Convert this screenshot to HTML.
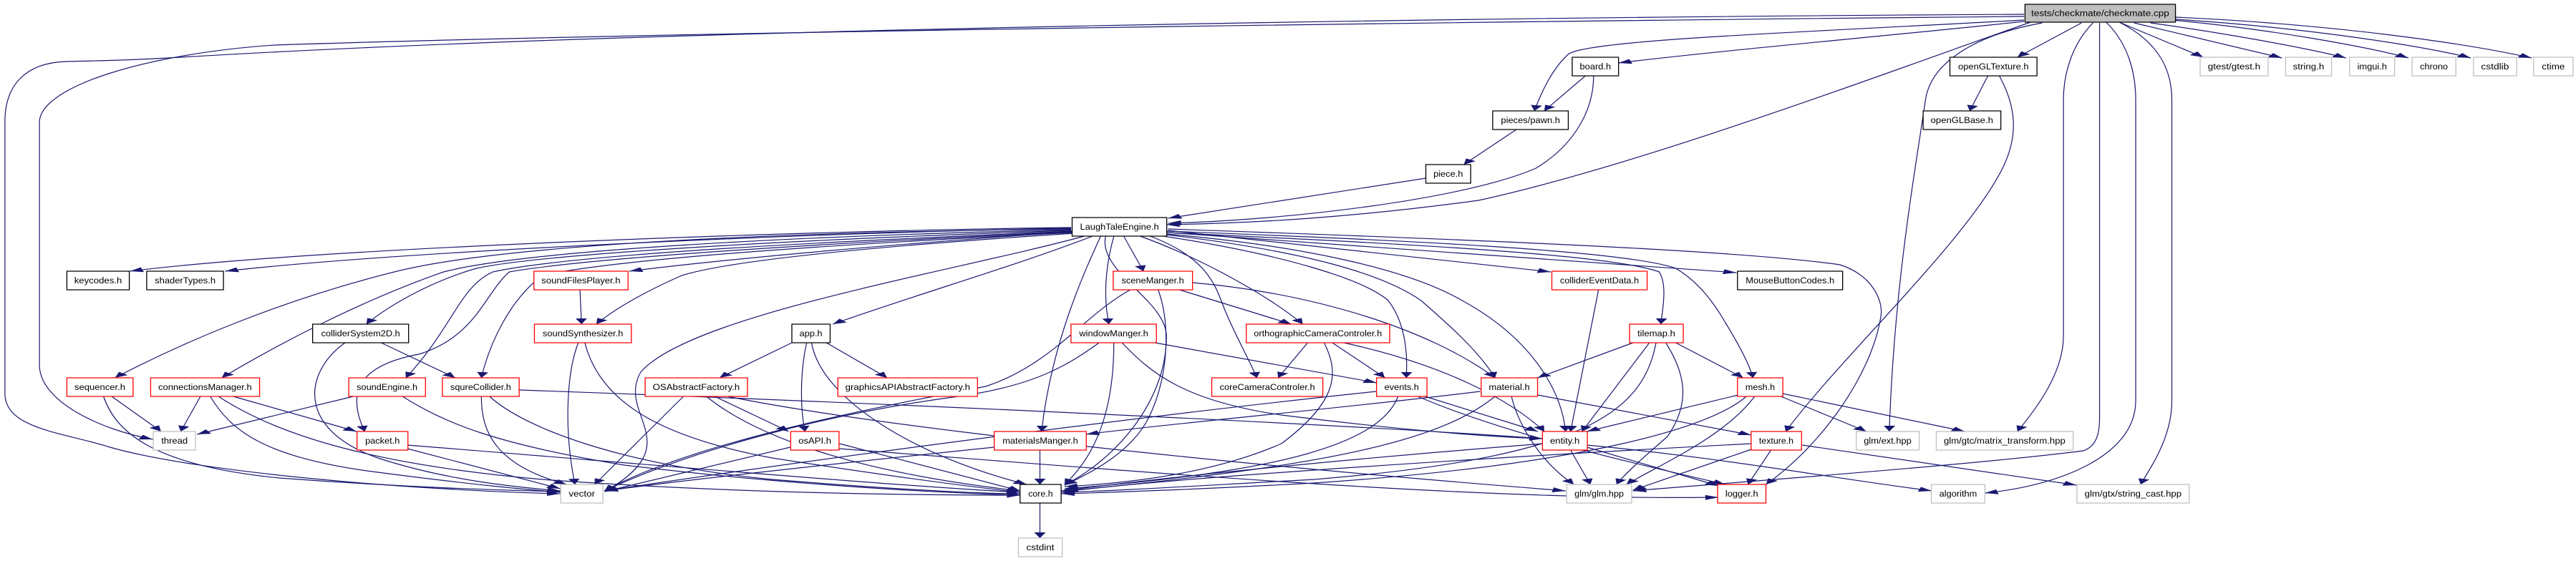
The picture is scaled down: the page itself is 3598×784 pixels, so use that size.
<!DOCTYPE html>
<html><head><meta charset="utf-8"><style>
html,body{margin:0;padding:0;background:#fff;}
svg{display:block;}
text{font-family:"Liberation Sans",Arial,sans-serif;font-size:12px;fill:#000;text-anchor:middle;}
.e{fill:none;stroke:#191970;stroke-width:1.2;vector-effect:non-scaling-stroke;marker-end:url(#a);}
.k{fill:#fff;stroke:#000;stroke-width:1.3;vector-effect:non-scaling-stroke;}
.r{fill:#fff;stroke:#ff0000;stroke-width:1.3;vector-effect:non-scaling-stroke;}
.g{fill:#fff;stroke:#bfbfbf;stroke-width:1.3;vector-effect:non-scaling-stroke;}
.m{fill:#bfbfbf;stroke:#000;stroke-width:1.3;vector-effect:non-scaling-stroke;}
</style></head><body>
<svg width="3598" height="784" viewBox="0 0 1568 784" preserveAspectRatio="none" xmlns="http://www.w3.org/2000/svg">
<defs><marker id="a" markerWidth="8" markerHeight="7" refX="8" refY="3.5" orient="auto" markerUnits="userSpaceOnUse"><path d="M0,0 L8,3.5 L0,7 z" fill="#191970"/></marker></defs>
<g>
<path class="e" d="M1232,20 C900,24 400,40 110,80 C80,84 60,85 40,86 C15,88 3,120 3,170 L3,550 C3,600 40,605 67,625 C120,660 250,685 341,690"/>
<path class="e" d="M1232,23 C900,30 400,45 167,63 C90,75 25,120 24,170 L24,510 C24,560 60,600 93,614"/>
<path class="e" d="M1236,31 C1150,100 1000,230 900,280 C820,305 760,312 710,314"/>
<path class="e" d="M1232,28 C1100,45 970,55 955,75 C945,95 938,130 934,155"/>
<path class="e" d="M1232,30 C1150,50 1050,70 985,88"/>
<path class="e" d="M1267,32 L1228,80"/>
<path class="e" d="M1291,32 L1341,80"/>
<path class="e" d="M1299,32 L1389,81"/>
<path class="e" d="M1309,32 C1350,45 1400,65 1428,81"/>
<path class="e" d="M1322,28 C1380,40 1440,65 1466,81"/>
<path class="e" d="M1324,27 C1400,38 1470,62 1504,81"/>
<path class="e" d="M1324,24 C1420,34 1500,60 1541,81"/>
<path class="e" d="M1243,32 C1200,50 1175,90 1172,140 C1165,250 1153,400 1150,603"/>
<path class="e" d="M1274,32 C1262,60 1256,100 1256,140 L1256,470 C1256,520 1240,570 1228,603"/>
<path class="e" d="M1278,32 L1278,585 C1278,610 1275,625 1268,630 C1200,650 1050,675 994,686"/>
<path class="e" d="M1282,31 C1295,60 1300,100 1300,140 L1300,560 C1300,640 1250,680 1208,689"/>
<path class="e" d="M1290,31 C1315,60 1322,100 1322,140 L1322,560 C1322,610 1310,650 1303,677"/>
<path class="e" d="M965,106 L940,155"/>
<path class="e" d="M970,106 C970,150 960,200 935,235 C890,280 780,308 711,312"/>
<path class="e" d="M923,181 L891,230"/>
<path class="e" d="M868,249 L711,305"/>
<path class="e" d="M1210,106 L1199,155"/>
<path class="e" d="M1217,106 C1225,140 1230,180 1220,230 C1200,330 1120,500 1087,603"/>
<path class="e" d="M652,318 C500,322 200,345 79,379"/>
<path class="e" d="M652,319 C500,325 250,350 137,379"/>
<path class="e" d="M653,324 C550,340 450,360 383,379"/>
<path class="e" d="M652,320 C450,325 300,345 240,380 C170,420 110,480 70,528"/>
<path class="e" d="M652,321 C480,330 320,350 270,380 C220,420 170,480 135,528"/>
<path class="e" d="M652,322 C480,335 330,355 290,375 C260,395 235,430 223,453"/>
<path class="e" d="M653,323 C500,338 350,355 300,380 C280,400 275,460 247,528"/>
<path class="e" d="M653,324 C500,340 360,360 310,380 C295,410 290,470 255,495 C220,510 210,545 222,603"/>
<path class="e" d="M653,325 C520,340 380,360 330,385 C310,420 298,480 293,528"/>
<path class="e" d="M654,326 C560,340 450,360 415,385 C395,405 375,430 363,453"/>
<path class="e" d="M660,330 C580,380 420,440 390,520 C375,580 420,620 368,687"/>
<path class="e" d="M665,330 C620,370 560,410 507,453"/>
<path class="e" d="M684,330 L696,379"/>
<path class="e" d="M678,330 C672,380 672,420 675,453"/>
<path class="e" d="M670,330 C660,380 640,480 634,603"/>
<path class="e" d="M673,330 C668,380 710,420 710,470 C710,560 680,640 648,678"/>
<path class="e" d="M694,330 C730,360 770,410 793,453"/>
<path class="e" d="M700,330 C735,360 740,400 745,430 C752,470 760,500 765,528"/>
<path class="e" d="M708,330 C780,355 830,390 845,420 C855,450 857,490 856,528"/>
<path class="e" d="M710,328 C790,350 840,380 865,420 C880,450 900,490 910,528"/>
<path class="e" d="M710,327 C800,345 860,380 890,420 C930,470 950,540 953,603"/>
<path class="e" d="M711,322 L944,380"/>
<path class="e" d="M710,325 C850,340 980,355 1010,380 C1015,400 1012,430 1011,453"/>
<path class="e" d="M711,325 L1057,381"/>
<path class="e" d="M710,323 C850,335 990,350 1020,375 C1035,395 1045,430 1050,450 C1058,480 1065,510 1067,528"/>
<path class="e" d="M711,320 C900,335 1060,350 1120,370 C1140,385 1146,420 1145,440 C1140,520 1110,620 1075,677"/>
<path class="e" d="M353,405 L354,453"/>
<path class="e" d="M352,479 C345,520 343,600 350,677"/>
<path class="e" d="M356,479 C365,560 400,610 470,640 C540,665 590,680 621,688"/>
<path class="e" d="M232,479 L277,528"/>
<path class="e" d="M210,479 C185,520 180,600 230,640 C270,670 310,680 341,686"/>
<path class="e" d="M68,554 L98,603"/>
<path class="e" d="M63,554 C70,600 90,650 170,668 C240,680 300,685 341,687"/>
<path class="e" d="M122,554 L110,603"/>
<path class="e" d="M142,554 L217,603"/>
<path class="e" d="M128,554 C140,600 160,640 230,660 C290,678 320,684 341,688"/>
<path class="e" d="M133,554 C170,610 230,650 330,670 C450,690 560,692 621,692"/>
<path class="e" d="M215,554 L120,607"/>
<path class="e" d="M245,554 C270,590 300,620 380,650 C470,675 560,688 621,692"/>
<path class="e" d="M293,554 C293,600 300,650 345,677"/>
<path class="e" d="M298,554 C320,600 380,650 470,670 C550,685 600,690 621,690"/>
<path class="e" d="M316,545 C500,560 800,590 939,613"/>
<path class="e" d="M248,627 L341,683"/>
<path class="e" d="M248,622 C400,650 550,680 621,688"/>
<path class="e" d="M482,479 L438,528"/>
<path class="e" d="M491,479 C487,520 487,570 490,603"/>
<path class="e" d="M503,479 L540,528"/>
<path class="e" d="M494,479 C500,560 560,640 625,677"/>
<path class="e" d="M416,554 L362,677"/>
<path class="e" d="M435,554 L480,603"/>
<path class="e" d="M430,554 C460,610 520,660 621,686"/>
<path class="e" d="M443,554 C520,590 700,640 953,686"/>
<path class="e" d="M481,625 L368,687"/>
<path class="e" d="M511,620 L621,686"/>
<path class="e" d="M511,627 C700,660 900,700 1046,695"/>
<path class="e" d="M718,405 L786,453"/>
<path class="e" d="M726,395 C800,410 870,460 910,528"/>
<path class="e" d="M705,405 C712,450 712,520 700,580 C690,630 665,660 648,678"/>
<path class="e" d="M688,405 C660,440 640,510 600,540 C530,570 420,620 368,686"/>
<path class="e" d="M703,479 L838,535"/>
<path class="e" d="M683,479 C700,520 720,560 780,580 C850,600 900,610 939,613"/>
<path class="e" d="M678,479 C678,560 670,630 648,677"/>
<path class="e" d="M669,479 C650,510 630,540 580,555 C500,580 420,630 368,686"/>
<path class="e" d="M796,479 L778,528"/>
<path class="e" d="M811,479 L843,528"/>
<path class="e" d="M818,479 C880,510 920,560 940,603"/>
<path class="e" d="M806,479 C815,520 815,560 780,620 C740,660 690,675 648,680"/>
<path class="e" d="M866,553 L936,603"/>
<path class="e" d="M851,554 C840,620 780,660 648,683"/>
<path class="e" d="M838,547 C700,580 500,640 368,686"/>
<path class="e" d="M863,554 C920,610 1000,650 1050,677"/>
<path class="e" d="M901,547 C820,570 720,590 661,607"/>
<path class="e" d="M910,554 C880,610 820,650 648,686"/>
<path class="e" d="M920,554 C925,600 940,650 958,677"/>
<path class="e" d="M936,552 L1066,608"/>
<path class="e" d="M633,629 L633,677"/>
<path class="e" d="M605,625 C500,650 420,670 368,686"/>
<path class="e" d="M939,620 C800,645 700,670 646,686"/>
<path class="e" d="M956,629 L968,677"/>
<path class="e" d="M966,625 L1046,679"/>
<path class="e" d="M966,622 C1050,640 1120,670 1176,686"/>
<path class="e" d="M973,405 L956,603"/>
<path class="e" d="M994,479 L936,528"/>
<path class="e" d="M1004,479 L963,603"/>
<path class="e" d="M1008,479 C1000,580 960,640 800,670 C720,680 680,686 646,688"/>
<path class="e" d="M1014,479 C1025,520 1030,560 1015,610 C1000,640 990,660 984,677"/>
<path class="e" d="M1020,479 L1061,528"/>
<path class="e" d="M1058,552 L966,603"/>
<path class="e" d="M1063,554 C1040,600 960,650 800,675 C720,685 680,688 646,690"/>
<path class="e" d="M1068,554 C1050,610 1010,650 990,677"/>
<path class="e" d="M1084,554 L1136,603"/>
<path class="e" d="M1085,550 L1196,603"/>
<path class="e" d="M1078,629 L1064,677"/>
<path class="e" d="M1066,620 C900,640 700,670 646,688"/>
<path class="e" d="M1066,628 L994,685"/>
<path class="e" d="M1097,622 L1264,678"/>
<path class="e" d="M633,703 L633,752"/>
</g>
<g>
<rect class="m" x="1232.6" y="6" width="91.6" height="25"/><text x="1278.4" y="22.5" textLength="84" lengthAdjust="spacingAndGlyphs">tests/checkmate/checkmate.cpp</text>
<rect class="k" x="957" y="80" width="28.2" height="26"/><text x="971.1" y="97" textLength="19" lengthAdjust="spacingAndGlyphs">board.h</text>
<rect class="k" x="908.6" y="155" width="46" height="26"/><text x="931.6" y="172" textLength="36" lengthAdjust="spacingAndGlyphs">pieces/pawn.h</text>
<rect class="k" x="867.9" y="230" width="27.3" height="26"/><text x="881.5" y="247" textLength="18" lengthAdjust="spacingAndGlyphs">piece.h</text>
<rect class="k" x="652.6" y="304" width="57.6" height="26"/><text x="681.4" y="321" textLength="48" lengthAdjust="spacingAndGlyphs">LaughTaleEngine.h</text>
<rect class="k" x="1186.9" y="80" width="53" height="26"/><text x="1213.4" y="97" textLength="43" lengthAdjust="spacingAndGlyphs">openGLTexture.h</text>
<rect class="k" x="1170.6" y="155" width="47.3" height="26"/><text x="1194.2" y="172" textLength="38" lengthAdjust="spacingAndGlyphs">openGLBase.h</text>
<rect class="g" x="1339.2" y="80" width="41.4" height="26"/><text x="1359.9" y="97" textLength="32" lengthAdjust="spacingAndGlyphs">gtest/gtest.h</text>
<rect class="g" x="1391.2" y="80" width="28" height="26"/><text x="1405.2" y="97" textLength="19" lengthAdjust="spacingAndGlyphs">string.h</text>
<rect class="g" x="1430.2" y="80" width="27.4" height="26"/><text x="1443.9" y="97" textLength="18" lengthAdjust="spacingAndGlyphs">imgui.h</text>
<rect class="g" x="1468.2" y="80" width="26.7" height="26"/><text x="1481.5" y="97" textLength="17" lengthAdjust="spacingAndGlyphs">chrono</text>
<rect class="g" x="1505.6" y="80" width="26.3" height="26"/><text x="1518.7" y="97" textLength="17" lengthAdjust="spacingAndGlyphs">cstdlib</text>
<rect class="g" x="1542.2" y="80" width="24" height="26"/><text x="1554.2" y="97" textLength="14" lengthAdjust="spacingAndGlyphs">ctime</text>
<rect class="k" x="40.7" y="379" width="38" height="26"/><text x="59.7" y="396" textLength="29" lengthAdjust="spacingAndGlyphs">keycodes.h</text>
<rect class="k" x="89.3" y="379" width="46.7" height="26"/><text x="112.7" y="396" textLength="37" lengthAdjust="spacingAndGlyphs">shaderTypes.h</text>
<rect class="r" x="325" y="379" width="57.3" height="26"/><text x="353.6" y="396" textLength="48" lengthAdjust="spacingAndGlyphs">soundFilesPlayer.h</text>
<rect class="r" x="677.6" y="379" width="48.3" height="26"/><text x="701.7" y="396" textLength="38" lengthAdjust="spacingAndGlyphs">sceneManger.h</text>
<rect class="r" x="944.6" y="379" width="58" height="26"/><text x="973.6" y="396" textLength="48" lengthAdjust="spacingAndGlyphs">colliderEventData.h</text>
<rect class="k" x="1057.6" y="379" width="64" height="26"/><text x="1089.6" y="396" textLength="54" lengthAdjust="spacingAndGlyphs">MouseButtonCodes.h</text>
<rect class="k" x="190.3" y="453" width="58.4" height="26"/><text x="219.5" y="470" textLength="48" lengthAdjust="spacingAndGlyphs">colliderSystem2D.h</text>
<rect class="r" x="325.3" y="453" width="59" height="26"/><text x="354.8" y="470" textLength="49" lengthAdjust="spacingAndGlyphs">soundSynthesizer.h</text>
<rect class="k" x="482" y="453" width="23.3" height="26"/><text x="493.6" y="470" textLength="14" lengthAdjust="spacingAndGlyphs">app.h</text>
<rect class="r" x="651.9" y="453" width="52" height="26"/><text x="677.9" y="470" textLength="42" lengthAdjust="spacingAndGlyphs">windowManger.h</text>
<rect class="r" x="758.6" y="453" width="87.3" height="26"/><text x="802.2" y="470" textLength="78" lengthAdjust="spacingAndGlyphs">orthographicCameraControler.h</text>
<rect class="r" x="991.9" y="453" width="32.7" height="26"/><text x="1008.2" y="470" textLength="23" lengthAdjust="spacingAndGlyphs">tilemap.h</text>
<rect class="r" x="40.7" y="528" width="40.3" height="26"/><text x="60.8" y="545" textLength="31" lengthAdjust="spacingAndGlyphs">sequencer.h</text>
<rect class="r" x="91.7" y="528" width="66.3" height="26"/><text x="124.8" y="545" textLength="57" lengthAdjust="spacingAndGlyphs">connectionsManager.h</text>
<rect class="r" x="212.3" y="528" width="46.7" height="26"/><text x="235.6" y="545" textLength="37" lengthAdjust="spacingAndGlyphs">soundEngine.h</text>
<rect class="r" x="269.3" y="528" width="46.7" height="26"/><text x="292.6" y="545" textLength="37" lengthAdjust="spacingAndGlyphs">squreCollider.h</text>
<rect class="r" x="392.7" y="528" width="62.3" height="26"/><text x="423.8" y="545" textLength="53" lengthAdjust="spacingAndGlyphs">OSAbstractFactory.h</text>
<rect class="r" x="510" y="528" width="85" height="26"/><text x="552.5" y="545" textLength="76" lengthAdjust="spacingAndGlyphs">graphicsAPIAbstractFactory.h</text>
<rect class="r" x="737.6" y="528" width="67.6" height="26"/><text x="771.4" y="545" textLength="58" lengthAdjust="spacingAndGlyphs">coreCameraControler.h</text>
<rect class="r" x="837.9" y="528" width="30.7" height="26"/><text x="853.2" y="545" textLength="21" lengthAdjust="spacingAndGlyphs">events.h</text>
<rect class="r" x="901.6" y="528" width="34.3" height="26"/><text x="918.7" y="545" textLength="25" lengthAdjust="spacingAndGlyphs">material.h</text>
<rect class="r" x="1057.6" y="528" width="27.6" height="26"/><text x="1071.4" y="545" textLength="18" lengthAdjust="spacingAndGlyphs">mesh.h</text>
<rect class="g" x="93.3" y="603" width="25.7" height="26"/><text x="106.2" y="620" textLength="16" lengthAdjust="spacingAndGlyphs">thread</text>
<rect class="r" x="217.3" y="603" width="31" height="26"/><text x="232.8" y="620" textLength="21" lengthAdjust="spacingAndGlyphs">packet.h</text>
<rect class="r" x="481.3" y="603" width="29.4" height="26"/><text x="496" y="620" textLength="20" lengthAdjust="spacingAndGlyphs">osAPI.h</text>
<rect class="r" x="605.2" y="603" width="56" height="26"/><text x="633.2" y="620" textLength="46" lengthAdjust="spacingAndGlyphs">materialsManger.h</text>
<rect class="r" x="938.9" y="603" width="27.3" height="26"/><text x="952.5" y="620" textLength="18" lengthAdjust="spacingAndGlyphs">entity.h</text>
<rect class="r" x="1065.9" y="603" width="30.7" height="26"/><text x="1081.2" y="620" textLength="21" lengthAdjust="spacingAndGlyphs">texture.h</text>
<rect class="g" x="1129.9" y="603" width="38.3" height="26"/><text x="1149" y="620" textLength="29" lengthAdjust="spacingAndGlyphs">glm/ext.hpp</text>
<rect class="g" x="1178.6" y="603" width="83.3" height="26"/><text x="1220.2" y="620" textLength="74" lengthAdjust="spacingAndGlyphs">glm/gtc/matrix_transform.hpp</text>
<rect class="g" x="341.3" y="677" width="25.7" height="26"/><text x="354.2" y="694" textLength="16" lengthAdjust="spacingAndGlyphs">vector</text>
<rect class="k" x="620.9" y="677" width="25" height="26"/><text x="633.4" y="694" textLength="15" lengthAdjust="spacingAndGlyphs">core.h</text>
<rect class="g" x="953.6" y="677" width="39.6" height="26"/><text x="973.4" y="694" textLength="30" lengthAdjust="spacingAndGlyphs">glm/glm.hpp</text>
<rect class="r" x="1045.5" y="677" width="29.4" height="26"/><text x="1060.2" y="694" textLength="20" lengthAdjust="spacingAndGlyphs">logger.h</text>
<rect class="g" x="1175.6" y="677" width="32.6" height="26"/><text x="1191.9" y="694" textLength="23" lengthAdjust="spacingAndGlyphs">algorithm</text>
<rect class="g" x="1264.2" y="677" width="68.4" height="26"/><text x="1298.4" y="694" textLength="59" lengthAdjust="spacingAndGlyphs">glm/gtx/string_cast.hpp</text>
<rect class="g" x="619.9" y="752" width="26.7" height="26"/><text x="633.2" y="769" textLength="17" lengthAdjust="spacingAndGlyphs">cstdint</text>
</g>
</svg>
</body></html>
